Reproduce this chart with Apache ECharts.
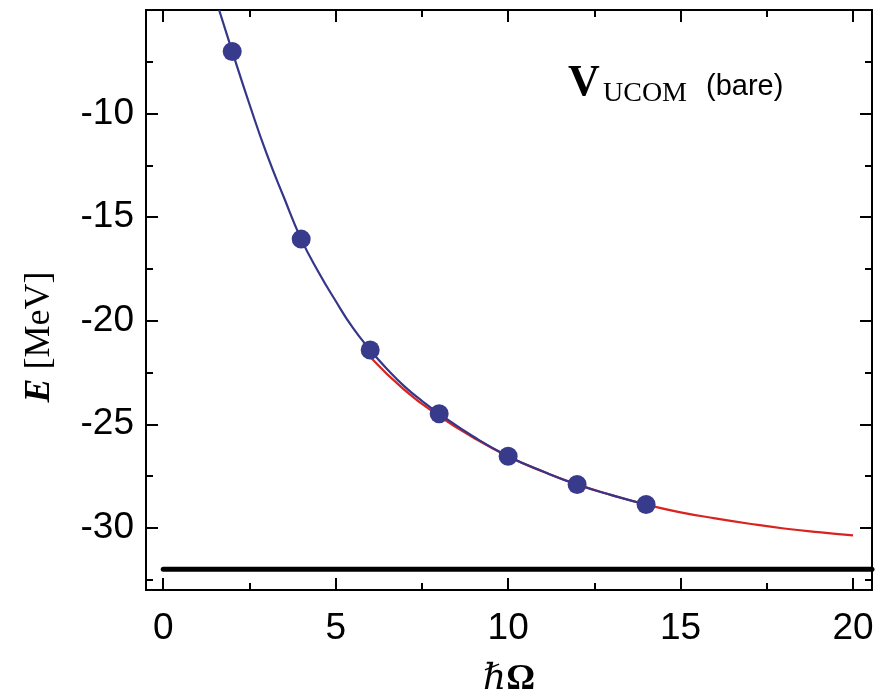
<!DOCTYPE html>
<html>
<head>
<meta charset="utf-8">
<script src="https://cdn.jsdelivr.net/npm/echarts@6.0.0/dist/echarts.min.js"></script>
<style>
  html, body { margin: 0; padding: 0; background: #ffffff; }
  #chart { width: 883px; height: 699px; }
</style>
</head>
<body>
<div id="chart"></div>
<script>
// Calculated energies at each oscillator frequency (MeV)
const pointOmega = [2, 4, 6, 8, 10, 12, 14];
const pointEnergy = [-7.0, -16.06, -21.41, -24.49, -26.54, -27.91, -28.87];

// Smooth curve through the calculated points
const blueOmega = [1.62, 2, 2.5, 3, 3.5, 4, 4.5, 5, 5.5, 6, 6.5, 7, 7.5, 8, 9, 10, 11, 12, 13, 14];
const blueEnergy = [-5.0, -7.0, -9.55, -11.95, -14.05, -16.06, -17.65, -19.05, -20.35, -21.41, -22.35, -23.18, -23.87, -24.49, -25.6, -26.54, -27.27, -27.91, -28.42, -28.87];

// Extrapolation curve
const redOmega = [6, 7, 8, 9, 10, 11, 12, 13, 14, 15, 16, 17, 18, 19, 20];
const redEnergy = [-21.75, -23.35, -24.6, -25.65, -26.55, -27.28, -27.9, -28.42, -28.88, -29.25, -29.54, -29.8, -30.03, -30.21, -30.36];

// Converged reference energy
const floorOmega = [0, 20.55];
const floorEnergy = [-32.0, -32.0];

// Tick positions
const xMajor = [0, 5, 10, 15, 20];
const xMinor = [2.5, 7.5, 12.5, 17.5];
const yMajor = [-30, -25, -20, -15, -10];
const yMinor = [-32.5, -27.5, -22.5, -17.5, -12.5, -7.5];

const X_MIN = -0.5, X_MAX = 20.55;
const Y_MIN = -33, Y_MAX = -5;

const sans = 'Liberation Sans, Arial, Helvetica, sans-serif';
const serif = 'Liberation Serif, DejaVu Serif, Times New Roman, serif';

const pairs = (xs, ys) => xs.map((x, i) => [x, ys[i]]);

function axis(position, min, max, ticks, len, withLabels) {
  return {
    type: 'value',
    position: position,
    min: min,
    max: max,
    axisLine: { show: true, onZero: false, lineStyle: { color: '#000', width: 2 } },
    axisTick: { show: true, inside: true, length: len, customValues: ticks,
                lineStyle: { color: '#000', width: 2 } },
    axisLabel: withLabels
      ? { show: true, customValues: ticks, fontSize: 37, color: '#000', fontFamily: sans,
          margin: (position === 'bottom') ? 20 : 12 }
      : { show: false },
    splitLine: { show: false },
    minorTick: { show: false }
  };
}

const xBottom = axis('bottom', X_MIN, X_MAX, xMajor, 12, true);
xBottom.name = '{h|ℏ}{o|Ω}';
xBottom.nameLocation = 'middle';
xBottom.nameGap = 72;
xBottom.nameTextStyle = {
  rich: {
    h: { fontFamily: serif, fontStyle: 'italic', fontSize: 36, color: '#000' },
    o: { fontFamily: serif, fontWeight: 'bold', fontSize: 36, color: '#000' }
  }
};

const option = {
  backgroundColor: '#ffffff',
  animation: false,
  grid: { left: 146, top: 10, width: 726, height: 580, containLabel: false, outerBoundsMode: 'none' },
  xAxis: [
    xBottom,
    axis('bottom', X_MIN, X_MAX, xMinor, 7, false),
    axis('top', X_MIN, X_MAX, xMajor, 12, false),
    axis('top', X_MIN, X_MAX, xMinor, 7, false)
  ],
  yAxis: [
    axis('left', Y_MIN, Y_MAX, yMajor, 12, true),
    axis('left', Y_MIN, Y_MAX, yMinor, 7, false),
    axis('right', Y_MIN, Y_MAX, yMajor, 12, false),
    axis('right', Y_MIN, Y_MAX, yMinor, 7, false)
  ],
  series: [
    {
      type: 'line', name: 'floor', data: pairs(floorOmega, floorEnergy),
      showSymbol: false, symbol: 'none',
      lineStyle: { color: '#000', width: 5, cap: 'round' }, z: 2
    },
    {
      type: 'line', name: 'extrapolation', data: pairs(redOmega, redEnergy),
      showSymbol: false, symbol: 'none', smooth: 0.5,
      lineStyle: { color: '#d8231f', width: 2.2 }, z: 3
    },
    {
      type: 'line', name: 'fit', data: pairs(blueOmega, blueEnergy),
      showSymbol: false, symbol: 'none', smooth: 0.5, clip: true,
      lineStyle: { color: '#35368a', width: 2.2 }, z: 4
    },
    {
      type: 'scatter', name: 'calc', data: pairs(pointOmega, pointEnergy),
      symbol: 'circle', symbolSize: 19,
      itemStyle: { color: '#383a8c', opacity: 1 }, z: 5
    }
  ],
  graphic: [
    {
      type: 'text', x: 40, y: 337, rotation: Math.PI / 2,
      style: {
        text: '{e|E} [MeV]',
        fontFamily: serif, fontSize: 36, fill: '#000',
        align: 'center', verticalAlign: 'middle',
        rich: {
          e: { fontFamily: serif, fontStyle: 'italic', fontWeight: 'bold', fontSize: 36, fill: '#000' }
        }
      }
    },
    {
      type: 'text', x: 568, y: 84,
      style: { text: 'V', fontFamily: serif, fontWeight: 'bold', fontSize: 44, fill: '#000',
               align: 'left', verticalAlign: 'middle' }
    },
    {
      type: 'text', x: 603, y: 94,
      style: { text: 'UCOM', fontFamily: serif, fontSize: 28, fill: '#000',
               align: 'left', verticalAlign: 'middle' }
    },
    {
      type: 'text', x: 706, y: 87,
      style: { text: '(bare)', fontFamily: sans, fontSize: 29, fill: '#000',
               align: 'left', verticalAlign: 'middle' }
    }
  ]
};

const chart = echarts.init(document.getElementById('chart'), null, { renderer: 'canvas' });
chart.setOption(option);
</script>
</body>
</html>
